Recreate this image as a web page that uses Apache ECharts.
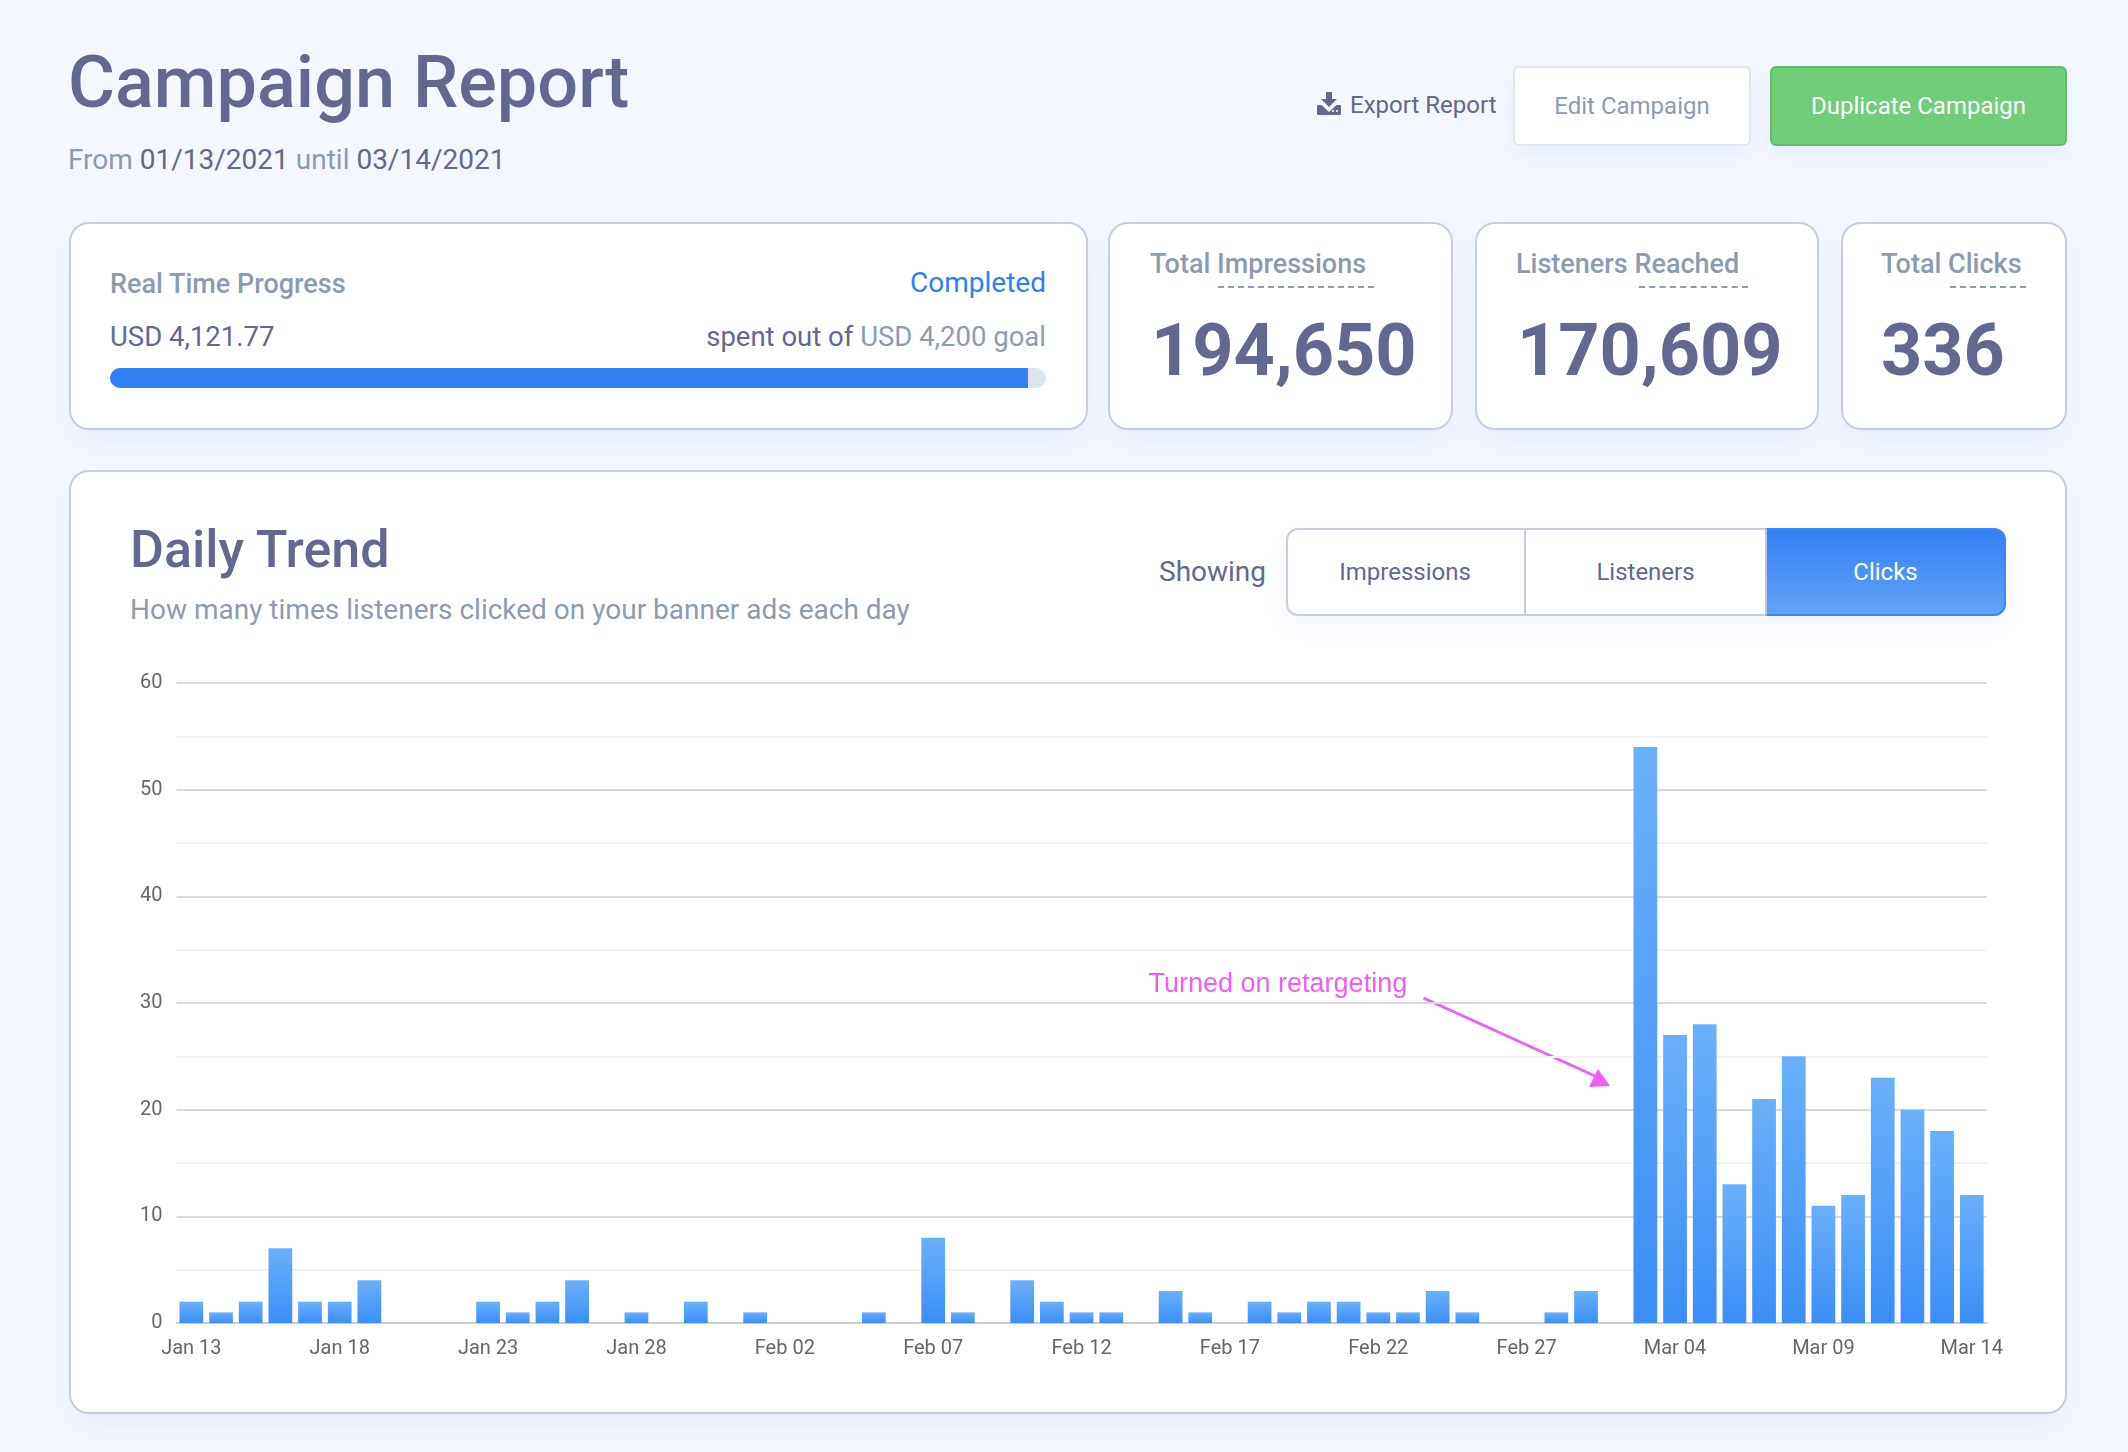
<!DOCTYPE html>
<html><head><meta charset="utf-8">
<script src="https://cdn.jsdelivr.net/npm/echarts@6/dist/echarts.min.js"></script>
<style>
html,body{margin:0;padding:0;width:2128px;height:1452px;overflow:hidden;background:#f4f7fe;font-family:Roboto,sans-serif}
.t{position:absolute;line-height:0;white-space:nowrap;font-size:calc(var(--s)*1px);top:calc(var(--b)*1px - var(--s)*.3415px)}
.ink{color:#62688f}.mute{color:#8c9bb0}
.m{font-weight:500}
.box{position:absolute;box-sizing:border-box;background:#fff}
.card{border:2px solid #c6cede;border-radius:20px;box-shadow:0 12px 24px rgba(90,125,230,.08)}
.dash{position:absolute;height:0;border-top:2px dashed #8c9bb0}
#chart{position:absolute;left:100px;top:660px;width:1906px;height:740px}
</style></head><body>

<div class="t ink m" style="--s:72;--b:108;left:68px">Campaign Report</div>
<div class="t mute" style="--s:28;--b:170;left:68px">From <span class="ink">01/13/2021</span> until <span class="ink">03/14/2021</span></div>

<svg style="position:absolute;left:1317px;top:92px" width="24" height="23" viewBox="0 0 24 23"><path fill="#62688f" d="M9 0h6v7h5l-8 8-8-8h5zM1 13h3.500l7.500 7 7.500-7H23a1 1 0 0 1 1 1v8a1 1 0 0 1-1 1H1a1 1 0 0 1-1-1v-8a1 1 0 0 1 1-1z"/><circle cx="16" cy="19" r="1.100" fill="#f4f7fe"/><circle cx="20" cy="19" r="1.100" fill="#f4f7fe"/></svg>
<div class="t ink" style="--s:24;--b:113;left:1350px">Export Report</div>

<div class="box" style="left:1513px;top:66px;width:238px;height:80px;border:2px solid #dfe6f0;border-radius:6px;box-shadow:0 10px 18px rgba(90,125,230,.07)"></div>
<div class="t mute" style="--s:24;--b:114;left:1513px;width:238px;text-align:center">Edit Campaign</div>
<div class="box" style="left:1770px;top:66px;width:297px;height:80px;background:#70cd78;border:2px solid #62bc6b;border-radius:6px;box-shadow:0 10px 18px rgba(90,125,230,.07)"></div>
<div class="t" style="--s:24;--b:114;left:1770px;width:297px;text-align:center;color:#fff">Duplicate Campaign</div>

<div class="box card" style="left:69px;top:222px;width:1019px;height:208px"></div>
<div class="t mute m" style="--s:27;--b:293;left:110px">Real Time Progress</div>
<div class="t" style="--s:28;--b:293;right:1082px;color:#2b80f5">Completed</div>
<div class="t ink" style="--s:27.500;--b:346;left:110px">USD 4,121.77</div>
<div class="t ink" style="--s:27.500;--b:346;right:1082px">spent out of <span class="mute">USD 4,200 goal</span></div>
<div style="position:absolute;left:110px;top:368px;width:936px;height:20px;border-radius:10px;background:#dde4ee;overflow:hidden"><div style="width:918px;height:20px;background:#3180f5"></div></div>

<div class="box card" style="left:1108px;top:222px;width:345px;height:208px"></div>
<div class="t mute m" style="--s:27;--b:273;left:1150px">Total Impressions</div>
<div class="dash" style="left:1218px;top:286px;width:156px"></div>
<div class="t ink m" style="--s:72;--b:376;left:1151px;font-weight:700">194,650</div>

<div class="box card" style="left:1475px;top:222px;width:344px;height:208px"></div>
<div class="t mute m" style="--s:27;--b:273;left:1516px">Listeners Reached</div>
<div class="dash" style="left:1639px;top:286px;width:109px"></div>
<div class="t ink m" style="--s:72;--b:376;left:1517px;font-weight:700">170,609</div>

<div class="box card" style="left:1841px;top:222px;width:226px;height:208px"></div>
<div class="t mute m" style="--s:27;--b:273;left:1881px">Total Clicks</div>
<div class="dash" style="left:1950px;top:286px;width:76px"></div>
<div class="t ink m" style="--s:72;--b:376;left:1881px;font-weight:700">336</div>

<div class="box card" style="left:69px;top:470px;width:1998px;height:944px"></div>
<div class="t ink m" style="--s:52;--b:568;left:130px">Daily Trend</div>
<div class="t mute" style="--s:28;--b:620;left:130px">How many times listeners clicked on your banner ads each day</div>
<div class="t ink" style="--s:28;--b:582;left:1159px">Showing</div>

<div class="box" style="left:1286px;top:528px;width:720px;height:88px;border:2px solid #c6cede;border-radius:12px;box-shadow:0 10px 20px rgba(90,125,230,.08)"></div>
<div style="position:absolute;left:1524px;top:529px;width:2px;height:86px;background:#c6cede"></div>
<div style="position:absolute;box-sizing:border-box;left:1765px;top:528px;width:241px;height:88px;border-radius:0 12px 12px 0;background:linear-gradient(#3481f5,#60a2f7);border:2px solid #3a86f5;border-left:2px solid #b9c6dc"></div>
<div class="t ink" style="--s:24;--b:580;left:1286px;width:238px;text-align:center">Impressions</div>
<div class="t ink" style="--s:24;--b:580;left:1526px;width:239px;text-align:center">Listeners</div>
<div class="t" style="--s:24;--b:580;left:1765px;width:241px;text-align:center;color:#fff">Clicks</div>

<div id="chart"></div>

<script>
const categories = ["Jan 13","Jan 14","Jan 15","Jan 16","Jan 17","Jan 18","Jan 19","Jan 20","Jan 21","Jan 22","Jan 23","Jan 24","Jan 25","Jan 26","Jan 27","Jan 28","Jan 29","Jan 30","Jan 31",
  "Feb 01","Feb 02","Feb 03","Feb 04","Feb 05","Feb 06","Feb 07","Feb 08","Feb 09","Feb 10","Feb 11","Feb 12","Feb 13","Feb 14","Feb 15","Feb 16","Feb 17","Feb 18","Feb 19","Feb 20","Feb 21","Feb 22","Feb 23","Feb 24","Feb 25","Feb 26","Feb 27","Feb 28",
  "Mar 01","Mar 02","Mar 03","Mar 04","Mar 05","Mar 06","Mar 07","Mar 08","Mar 09","Mar 10","Mar 11","Mar 12","Mar 13","Mar 14"];
const clicks = [2,1,2,7,2,2,4,0,0,0,2,1,2,4,0,1,0,2,0,
  1,0,0,0,1,0,8,1,0,4,2,1,1,0,3,1,0,2,1,2,2,1,1,3,1,0,0,1,
  3,0,54,27,28,13,21,25,11,12,23,20,18,12];
const annotationText = "Turned on retargeting";
const annotationColor = "#ee5ef5";

const chart = echarts.init(document.getElementById('chart'));
chart.setOption({
  animation:false,
  textStyle:{fontFamily:'Roboto'},
  grid:{left:76.500,right:12,top:23,bottom:77,containLabel:false},
  xAxis:{type:'category',data:categories,
    axisTick:{show:false},
    axisLine:{lineStyle:{color:'#cccccc',width:2}},
    axisLabel:{interval:4,color:'#666',fontSize:20,margin:16,fontFamily:'Roboto',hideOverlap:false}},
  yAxis:{type:'value',min:0,max:60,interval:10,
    axisLine:{show:false},axisTick:{show:false},
    axisLabel:{color:'#666',fontSize:20,margin:14,fontFamily:'Roboto'},
    splitLine:{lineStyle:{color:'#d9d9d9',width:2}},
    minorTick:{show:false,splitNumber:2},
    minorSplitLine:{show:true,lineStyle:{color:'#f2f2f2',width:2}}},
  series:[{type:'bar',data:clicks,barWidth:'80%',
    itemStyle:{color:new echarts.graphic.LinearGradient(0,0,0,1,[{offset:0,color:'#6ab1fb'},{offset:1,color:'#3a8ef6'}])}}],
  graphic:[
    {type:'text',left:1048.500,top:311,style:{text:annotationText,fill:annotationColor,font:'27px "Liberation Sans"'}},
    {type:'line',shape:{x1:1323.500,y1:338,x2:1495,y2:416},style:{stroke:annotationColor,lineWidth:3}},
    {type:'polygon',shape:{points:[[1510,426],[1498,409],[1489,427]]},style:{fill:annotationColor}}
  ]
});
</script>
</body></html>
